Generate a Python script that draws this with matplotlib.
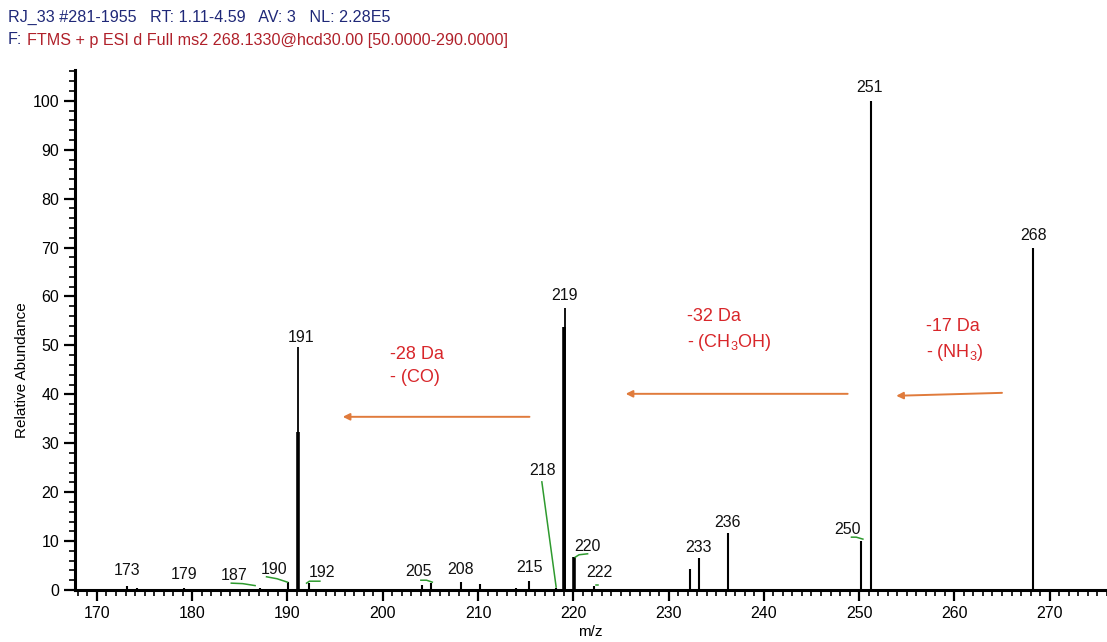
import matplotlib
matplotlib.use("Agg")
import matplotlib.pyplot as plt
from matplotlib.ticker import MultipleLocator

plt.rcParams['font.family'] = ['Liberation Sans', 'DejaVu Sans']
plt.rcParams['mathtext.fontset'] = 'custom'
plt.rcParams['mathtext.rm'] = 'Liberation Sans'
plt.rcParams['mathtext.it'] = 'Liberation Sans'

# centroid peaks (m/z, relative abundance)
mz = [173.2, 174.2, 179.1, 187.1, 190.1, 192.3, 194.4, 204.1, 205.1, 208.2, 210.2,
      214.0, 215.3, 218.2, 222.2, 232.2, 233.2, 236.2, 250.2, 251.2, 268.3]
ab = [0.8, 0.4, 0.5, 0.5, 1.7, 1.4, 0.3, 1.0, 1.5, 1.7, 1.2,
      0.4, 1.9, 0.5, 0.9, 4.2, 6.5, 11.6, 10.0, 100.0, 70.0]
# thick (overlapping) peaks
mz_thick = [191.07, 191.1, 219.07, 219.1, 220.1]
ab_thick = [32.3, 49.7, 53.8, 57.7, 6.7]

# peak labels: text, x, y
lab_txt = ['173', '179', '187', '190', '191', '192', '205', '208', '215', '218',
           '219', '220', '222', '233', '236', '250', '251', '268']
lab_x = [173.15, 179.1, 184.4, 188.6, 191.4, 193.6, 203.7, 208.2, 215.4, 216.8,
         219.1, 221.5, 222.7, 233.1, 236.2, 248.8, 251.1, 268.3]
lab_y = [3.9, 3.1, 2.9, 4.1, 51.7, 3.5, 3.7, 4.1, 4.5, 24.5,
         60.1, 8.8, 3.5, 8.6, 13.7, 12.3, 102.7, 72.4]

# green label leaders
leaders = [
    ([184.1, 185.3, 186.6], [1.4, 1.3, 0.9]),
    ([187.8, 188.9, 190.0], [2.7, 2.3, 1.6]),
    ([192.0, 192.3, 193.4], [1.4, 1.8, 1.8]),
    ([204.0, 204.6, 205.2], [2.0, 2.0, 1.6]),
    ([216.7, 218.2], [22.1, 0.6]),
    ([220.2, 220.6, 221.5], [6.7, 7.2, 7.4]),
    ([222.35, 222.6], [1.0, 1.0]),
    ([249.2, 249.7, 250.4], [10.8, 10.8, 10.4]),
]

# neutral losses: text, text pos, arrow start/end
loss_txt = ['-28 Da\n- (CO)', '-32 Da\n- (CH$_3$OH)', '-17 Da\n- (NH$_3$)']
loss_tx = [200.8, 231.9, 257.0]
loss_ty = [45.8, 53.0, 51.0]
arr_x0 = [215.4, 248.8, 265.0]
arr_x1 = [195.8, 225.5, 253.9]
arr_y0 = [35.4, 40.1, 40.3]
arr_y1 = [35.4, 40.1, 39.7]

fig = plt.figure(figsize=(11.07, 6.42), dpi=100)
ax = fig.add_axes([0.0678, 0.081, 0.932, 0.81])

ax.vlines(mz, 0, ab, color='black', lw=1.5)
ax.vlines(mz_thick, 0, ab_thick, color='black', lw=[2.6, 1.3, 2.6, 1.3, 2.6])

for xs, ys in leaders:
    ax.plot(xs, ys, color='#2e9a2e', lw=1.1)

for t, x, y in zip(lab_txt, lab_x, lab_y):
    ax.text(x, y, t, ha='center', va='center', fontsize=11.5, color='#111111')

for t, tx, ty, x0, x1, y0, y1 in zip(loss_txt, loss_tx, loss_ty, arr_x0, arr_x1, arr_y0, arr_y1):
    ax.text(tx, ty, t, ha='left', va='center', fontsize=13, color='#d8262a',
            linespacing=1.45)
    ax.annotate('', xy=(x1, y1), xytext=(x0, y0),
                arrowprops=dict(arrowstyle='-|>', color='#e07b3c', lw=1.4,
                                mutation_scale=10, shrinkA=0, shrinkB=0))

ax.set_xlim(167.7, 276.0)
ax.set_ylim(0, 106.3)
ax.xaxis.set_major_locator(MultipleLocator(10))
ax.xaxis.set_minor_locator(MultipleLocator(1))
ax.yaxis.set_major_locator(MultipleLocator(10))
ax.yaxis.set_minor_locator(MultipleLocator(2))
ax.tick_params(which='major', length=8, width=1.6, labelsize=11.5, direction='out')
ax.tick_params(which='minor', length=4, width=1.2, direction='out')
for s in ['top', 'right']:
    ax.spines[s].set_visible(False)
for s in ['left', 'bottom']:
    ax.spines[s].set_linewidth(2.2)

ax.set_xlabel('m/z', fontsize=11, va='center')
ax.set_ylabel('Relative Abundance', fontsize=11, va='center')
ax.xaxis.set_label_coords(0.499, -42 / 520)
ax.yaxis.set_label_coords(-53 / 1032, 0.5 - 40 / 520)

navy = '#1f2878'
fig.text(8 / 1107, 1 - 17 / 642, 'RJ_33 #281-1955   RT: 1.11-4.59   AV: 3   NL: 2.28E5',
         fontsize=11.6, color=navy, va='center')
fig.text(8 / 1107, 1 - 40 / 642, 'F:', fontsize=11.6, color=navy, va='center')
fig.text(27 / 1107, 1 - 40 / 642,
         'FTMS + p ESI d Full ms2 268.1330@hcd30.00 [50.0000-290.0000]',
         fontsize=11.6, color='#b0202a', va='center')

fig.savefig('out.png', dpi=100)
